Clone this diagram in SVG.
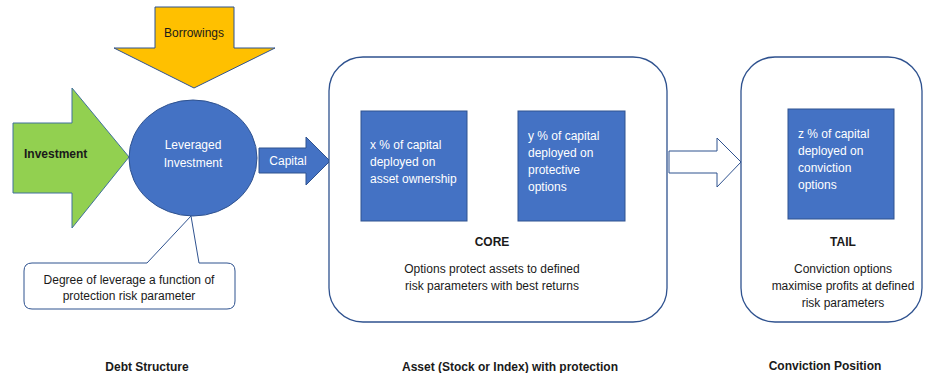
<svg xmlns="http://www.w3.org/2000/svg" width="926" height="373" viewBox="0 0 926 373">
<style>
.t{font-family:"Liberation Sans",Arial,sans-serif;font-size:12px;fill:#1a1a1a}
.w{font-family:"Liberation Sans",Arial,sans-serif;font-size:12px;fill:#ffffff}
.b{font-weight:bold}
.c{text-anchor:middle}
.blue{fill:#4472C4;stroke:#2F528F;stroke-width:1}
.frame{fill:#ffffff;stroke:#2F528F;stroke-width:1.3}
</style>
<rect width="926" height="373" fill="#ffffff"/>
<g id="borrowings">
<polygon points="155,7 234,7 234,48 275,48 194,88 114,48 155,48" fill="#FFC000" stroke="#2F528F" stroke-width="1"/>
<text class="t c" x="194" y="37">Borrowings</text>
</g>
<g id="investment">
<polygon points="13,123 72,123 72,88 129,157 72,228 72,193 13,193" fill="#92D050" stroke="#41719C" stroke-width="1"/>
<text class="t b" x="24" y="158" font-size="12.5">Investment</text>
</g>
<g id="leveraged">
<ellipse cx="193" cy="158" rx="64" ry="58" class="blue"/>
<text class="w c" x="193" y="149">Leveraged</text>
<text class="w c" x="193" y="167">Investment</text>
</g>
<g id="capital">
<polygon points="259,148 306,148 306,137 330,161 306,185 306,173 259,173" class="blue"/>
<text class="w c" x="288" y="165">Capital</text>
</g>
<g id="callout">
<path d="M32,263 H147 L191,216 L199,263 H227 Q235,263 235,271 V301 Q235,309 227,309 H32 Q24,309 24,301 V271 Q24,263 32,263 Z" fill="#ffffff" stroke="#2F528F" stroke-width="1"/>
<text class="t c" x="129" y="284">Degree of leverage a function of</text>
<text class="t c" x="129" y="300">protection risk parameter</text>
</g>
<g id="core">
<rect x="329" y="57" width="338" height="265" rx="34" class="frame"/>
<rect x="361" y="111" width="106" height="110" class="blue"/>
<text class="w" x="370" y="149">x % of capital</text>
<text class="w" x="370" y="166">deployed on</text>
<text class="w" x="370" y="183">asset ownership</text>
<rect x="518" y="111" width="107" height="110" class="blue"/>
<text class="w" x="528" y="140">y % of capital</text>
<text class="w" x="528" y="157">deployed on</text>
<text class="w" x="528" y="174">protective</text>
<text class="w" x="528" y="191">options</text>
<text class="t b c" x="492" y="246" font-size="15.5">CORE</text>
<text class="t c" x="492" y="273">Options protect assets to defined</text>
<text class="t c" x="492" y="290">risk parameters with best returns</text>
</g>
<g id="connectors">
<polygon points="669,151 717,151 717,138 741,162 717,187 717,173 669,173" fill="#ffffff" stroke="#2F528F" stroke-width="1"/>
</g>
<g id="tail">
<rect x="741" y="57" width="181" height="265" rx="34" class="frame"/>
<rect x="788" y="109" width="106" height="110" class="blue"/>
<text class="w" x="798" y="138">z % of capital</text>
<text class="w" x="798" y="155">deployed on</text>
<text class="w" x="798" y="172">conviction</text>
<text class="w" x="798" y="189">options</text>
<text class="t b c" x="843" y="246" font-size="15.5">TAIL</text>
<text class="t c" x="843" y="273">Conviction options</text>
<text class="t c" x="843" y="290">maximise profits at defined</text>
<text class="t c" x="843" y="307">risk parameters</text>
</g>
<g id="labels">
<text class="t b c" x="147" y="371" font-size="12.5">Debt Structure</text>
<text class="t b c" x="510" y="371" font-size="12.5">Asset (Stock or Index) with protection</text>
<text class="t b c" x="825" y="370" font-size="12.5">Conviction Position</text>
</g>
</svg>
